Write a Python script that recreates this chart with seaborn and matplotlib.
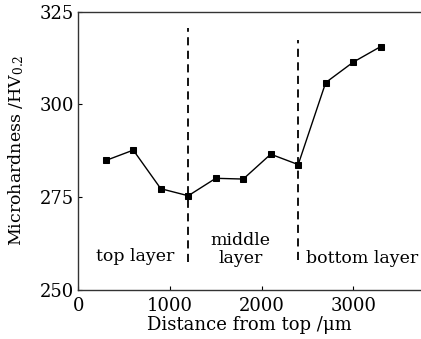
import matplotlib
matplotlib.use("Agg")
import matplotlib.pyplot as plt
import seaborn as sns
import pandas as pd

distance = [300, 600, 900, 1200, 1500, 1800, 2100, 2400, 2700, 3000, 3300]
hardness = [284.9, 287.7, 277.3, 275.4, 280.1, 279.9, 286.6, 283.8, 305.9, 311.4, 315.6]
boundaries = [1200, 2400]
boundary_top = [320.5, 317.4]
boundary_bottom = [257.6, 258.0]
region_labels = ["top layer", "middle\nlayer", "bottom layer"]
region_x = [618, 1771, 3100]
region_y = [259.0, 261.0, 258.6]
xticks = [0, 1000, 2000, 3000]
yticks = [250, 275, 300, 325]

sns.set_style("ticks")
plt.rcParams['font.family'] = ['DejaVu Serif']
plt.rcParams['mathtext.fontset'] = 'dejavuserif'
plt.rcParams['text.color'] = 'black'
plt.rcParams['axes.labelcolor'] = 'black'
plt.rcParams['xtick.color'] = 'black'
plt.rcParams['ytick.color'] = 'black'

df = pd.DataFrame({"x": distance, "y": hardness})

fig = plt.figure(figsize=(4.21, 3.39), dpi=100)
ax = fig.add_axes([78.3/421, 49/339, 1 - 78.3/421, (290-11.7)/339])

sns.lineplot(data=df, x="x", y="y", ax=ax, color="black", linewidth=1.0,
             marker="s", markersize=4.5, markeredgecolor="black", markerfacecolor="black")

for b, t, bt in zip(boundaries, boundary_top, boundary_bottom):
    ax.plot([b, b], [bt, t], color="black", linestyle=(0, (4.5, 3)), linewidth=1.3)

for lab, x, y in zip(region_labels, region_x, region_y):
    ax.text(x, y, lab, ha="center", va="center", fontsize=12.5, linespacing=1.05)

ax.set_xlim(0, 3740)
ax.set_ylim(250, 325)
ax.set_xticks(xticks)
ax.set_yticks(yticks)
ax.tick_params(direction="in", length=3, width=0.8, labelsize=13)
ax.tick_params(axis="x", pad=5)
ax.tick_params(axis="y", pad=3)
ax.set_xlabel("Distance from top /μm", fontsize=13, labelpad=1)
ax.set_ylabel("Microhardness /HV$_{0.2}$", fontsize=12.5, labelpad=10)
ax.spines['right'].set_visible(False)
for s in ['left', 'bottom', 'top']:
    ax.spines[s].set_linewidth(1.0)
    ax.spines[s].set_color('#333333')

fig.savefig("out.png", dpi=100)
